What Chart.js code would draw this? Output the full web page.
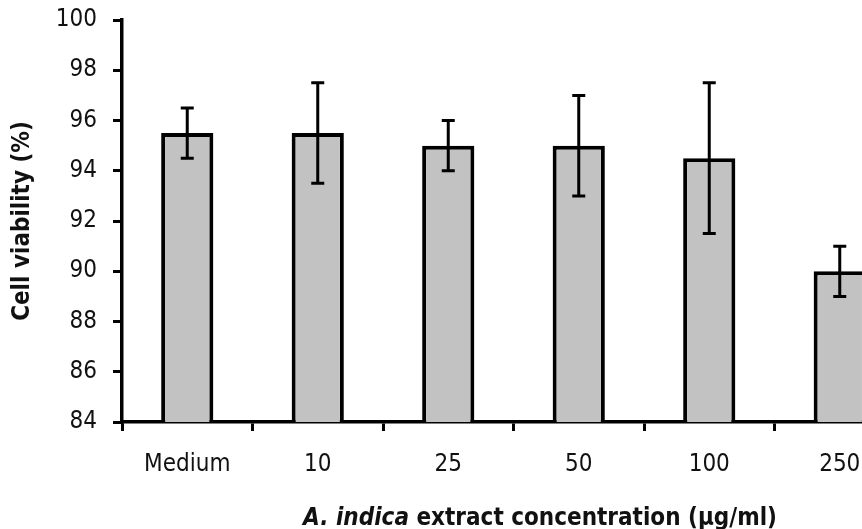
<!DOCTYPE html>
<html>
<head>
<meta charset="utf-8">
<script src="https://cdn.jsdelivr.net/npm/chart.js@4.4.0/dist/chart.umd.min.js"></script>
<style>
  html, body { margin: 0; padding: 0; background: #fff; overflow: hidden; }
  #wrap { position: relative; width: 905px; height: 529px; }
</style>
</head>
<body>
<div id="wrap"><canvas id="chart"></canvas></div>
<script>
var categories = ['Medium', '10', '25', '50', '100', '250'];
var viability = [95.5, 95.5, 95, 95, 94.5, 90];
var errors = [1, 2, 1, 2, 3, 1];
var yMin = 84, yMax = 100, yStep = 2;

var fam = '"DejaVu Sans Condensed", "DejaVu Sans", sans-serif';
var ink = '#111';

// error bars drawn from the y scale
var errorBars = {
    id: 'errorBars',
    afterDatasetsDraw: function (chart) {
        var ctx = chart.ctx;
        var meta = chart.getDatasetMeta(0);
        var y = chart.scales.y;
        ctx.save();
        ctx.strokeStyle = '#000';
        ctx.lineWidth = 3;
        for (var i = 0; i < viability.length; i++) {
            var x = meta.data[i].x;
            var top = y.getPixelForValue(viability[i] + errors[i]);
            var bot = y.getPixelForValue(viability[i] - errors[i]);
            ctx.beginPath();
            ctx.moveTo(x, top); ctx.lineTo(x, bot);
            ctx.moveTo(x - 6.5, top); ctx.lineTo(x + 6.5, top);
            ctx.moveTo(x - 6.5, bot); ctx.lineTo(x + 6.5, bot);
            ctx.stroke();
        }
        ctx.restore();
    }
};

// x title with italic species name
var xTitle = {
    id: 'xTitle',
    afterDraw: function (chart) {
        var ctx = chart.ctx;
        var part1 = 'A. indica';
        var part2 = ' extract concentration (µg/ml)';
        ctx.save();
        ctx.fillStyle = ink;
        ctx.textBaseline = 'alphabetic';
        ctx.font = 'italic bold 24px ' + fam;
        var w1 = ctx.measureText(part1).width;
        ctx.font = 'bold 24px ' + fam;
        var w2 = ctx.measureText(part2).width;
        var x0 = 540 - (w1 + w2) / 2;
        ctx.font = 'italic bold 24px ' + fam;
        ctx.fillText(part1, x0, 525);
        ctx.font = 'bold 24px ' + fam;
        ctx.fillText(part2, x0 + w1, 525);
        ctx.restore();
    }
};

new Chart(document.getElementById('chart'), {
    type: 'bar',
    data: {
        labels: categories,
        datasets: [{
            data: viability,
            backgroundColor: '#c2c2c2',
            borderColor: '#000',
            borderWidth: 4,
            borderSkipped: 'start',
            barPercentage: 0.4,
            categoryPercentage: 1
        }]
    },
    options: {
        responsive: true,
        maintainAspectRatio: false,
        animation: false,
        layout: { padding: { top: 20, left: 0, right: 0, bottom: 0 } },
        plugins: {
            legend: { display: false },
            tooltip: { enabled: false }
        },
        scales: {
            x: {
                z: 1,
                offset: true,
                grid: {
                    display: true, offset: true, drawOnChartArea: false,
                    drawTicks: true, tickLength: 9, color: '#000', lineWidth: 3
                },
                border: { display: true, color: '#000', width: 3.5 },
                ticks: { color: ink, font: { family: fam, size: 24 }, padding: 19, maxRotation: 0 },
                afterFit: function (s) { s.height = 107; s.paddingLeft = 0; s.paddingRight = 0; }
            },
            y: {
                min: yMin,
                max: yMax,
                grid: {
                    display: true, drawOnChartArea: false,
                    drawTicks: true, tickLength: 9, color: '#000', lineWidth: 3
                },
                border: { display: true, color: '#000', width: 3.5 },
                ticks: { stepSize: yStep, color: ink, font: { family: fam, size: 24 }, padding: 16 },
                title: {
                    display: true,
                    text: 'Cell viability (%)',
                    color: ink,
                    font: { family: fam, size: 24, weight: 'bold' },
                    padding: { top: 8, bottom: 0 }
                },
                afterFit: function (s) { s.width = 122; s.paddingTop = 0; s.paddingBottom = 0; }
            }
        }
    },
    plugins: [errorBars, xTitle]
});
</script>
</body>
</html>
